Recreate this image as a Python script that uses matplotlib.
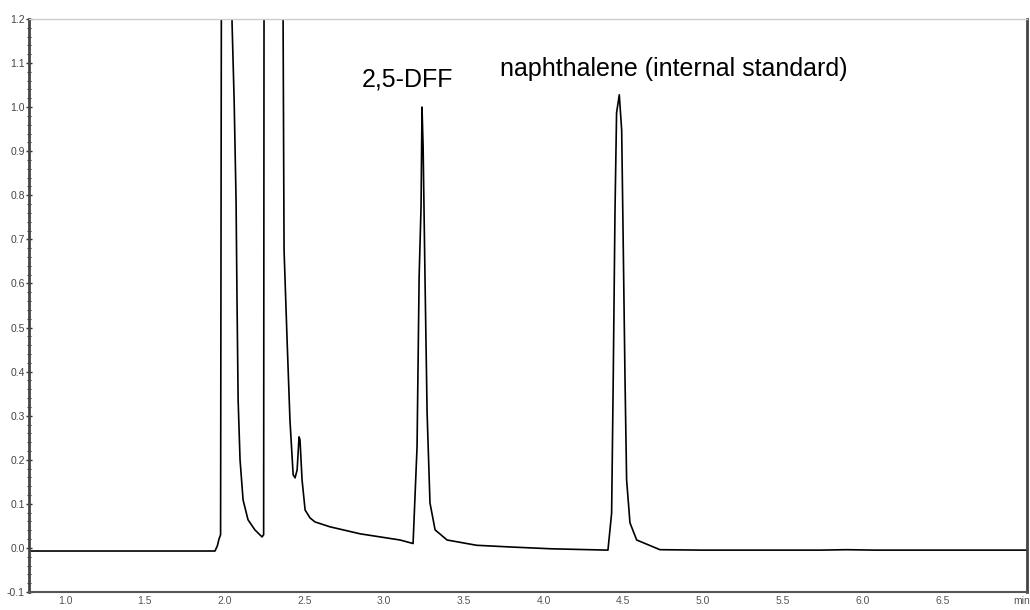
import matplotlib
matplotlib.use("Agg")
import matplotlib.pyplot as plt
from matplotlib.ticker import MultipleLocator

# chromatogram trace (time in min, signal)
times = [0.774, 1.94, 1.955, 1.965, 1.975, 1.981, 2.01, 2.045,
         2.047, 2.06, 2.072, 2.078, 2.085, 2.097, 2.116, 2.147, 2.19, 2.235, 2.245,
         2.248, 2.30, 2.365,
         2.367, 2.373, 2.392, 2.41, 2.43, 2.442, 2.455, 2.467, 2.473, 2.486, 2.505,
         2.536, 2.567, 2.66, 2.85, 3.1, 3.182,
         3.207, 3.22, 3.232, 3.238, 3.245, 3.257, 3.27, 3.288, 3.32, 3.395, 3.58,
         3.8, 4.05, 4.404,
         4.427, 4.437, 4.448, 4.458, 4.475, 4.49, 4.5, 4.511, 4.521, 4.542, 4.584,
         4.73, 5.0, 5.73, 5.9, 6.08, 7.031]
signal = [-0.007, -0.007, 0.005, 0.02, 0.03, 1.5, 2.5, 1.3,
          1.19, 1.016, 0.79, 0.563, 0.336, 0.2, 0.109, 0.064, 0.041, 0.025, 0.03,
          1.5, 3.0, 1.5,
          1.19, 0.676, 0.472, 0.29, 0.166, 0.159, 0.177, 0.252, 0.245, 0.154, 0.086,
          0.068, 0.059, 0.048, 0.032, 0.018, 0.01,
          0.23, 0.615, 0.774, 1.0, 0.91, 0.608, 0.306, 0.102, 0.041, 0.018, 0.006,
          0.002, -0.002, -0.005,
          0.079, 0.381, 0.76, 0.987, 1.028, 0.948, 0.683, 0.381, 0.154, 0.057, 0.018,
          -0.004, -0.005, -0.005, -0.004, -0.005, -0.005]

xtick_vals = [1.0, 1.5, 2.0, 2.5, 3.0, 3.5, 4.0, 4.5, 5.0, 5.5, 6.0, 6.5, 7.0]
xtick_labels = ["1.0", "1.5", "2.0", "2.5", "3.0", "3.5", "4.0", "4.5", "5.0",
                "5.5", "6.0", "6.5", "min"]
ytick_vals = [-0.1, 0.0, 0.1, 0.2, 0.3, 0.4, 0.5, 0.6, 0.7, 0.8, 0.9, 1.0, 1.1, 1.2]

plt.rcParams['font.family'] = ['Liberation Sans', 'DejaVu Sans']

fig = plt.figure(figsize=(10.3, 6.1), dpi=100)
ax = fig.add_axes([0.0282, 0.0295, 0.9688, 0.9394])

ax.plot(times, signal, color='black', linewidth=1.2)

ax.set_xlim(0.774, 7.031)
ax.set_ylim(-0.1, 1.2)

ax.set_xticks(xtick_vals)
ax.set_xticklabels(xtick_labels)
ax.set_yticks(ytick_vals)
ax.set_yticklabels(["{:.1f}".format(v) for v in ytick_vals])
ax.yaxis.set_minor_locator(MultipleLocator(0.02))

ax.tick_params(axis='x', length=0, pad=3, labelsize=7.5, labelcolor='#555555')
ax.tick_params(axis='y', which='major', direction='inout', length=4, width=1,
               color='#333333', pad=1, labelsize=7.5, labelcolor='#444444')
ax.tick_params(axis='y', which='minor', direction='inout', length=3, width=0.8,
               color='#333333')

ax.spines['left'].set_color('#444444')
ax.spines['left'].set_linewidth(2)
ax.spines['bottom'].set_color('#555555')
ax.spines['bottom'].set_linewidth(1.5)
ax.spines['right'].set_color('#444444')
ax.spines['right'].set_linewidth(2)
ax.spines['top'].set_color('#cccccc')
ax.spines['top'].set_linewidth(1)

ax.text(2.862, 1.046, "2,5-DFF", fontsize=18, ha='left', va='baseline')
ax.text(3.727, 1.071, "naphthalene (internal standard)", fontsize=18,
        ha='left', va='baseline')

fig.savefig("out.png", dpi=100)
